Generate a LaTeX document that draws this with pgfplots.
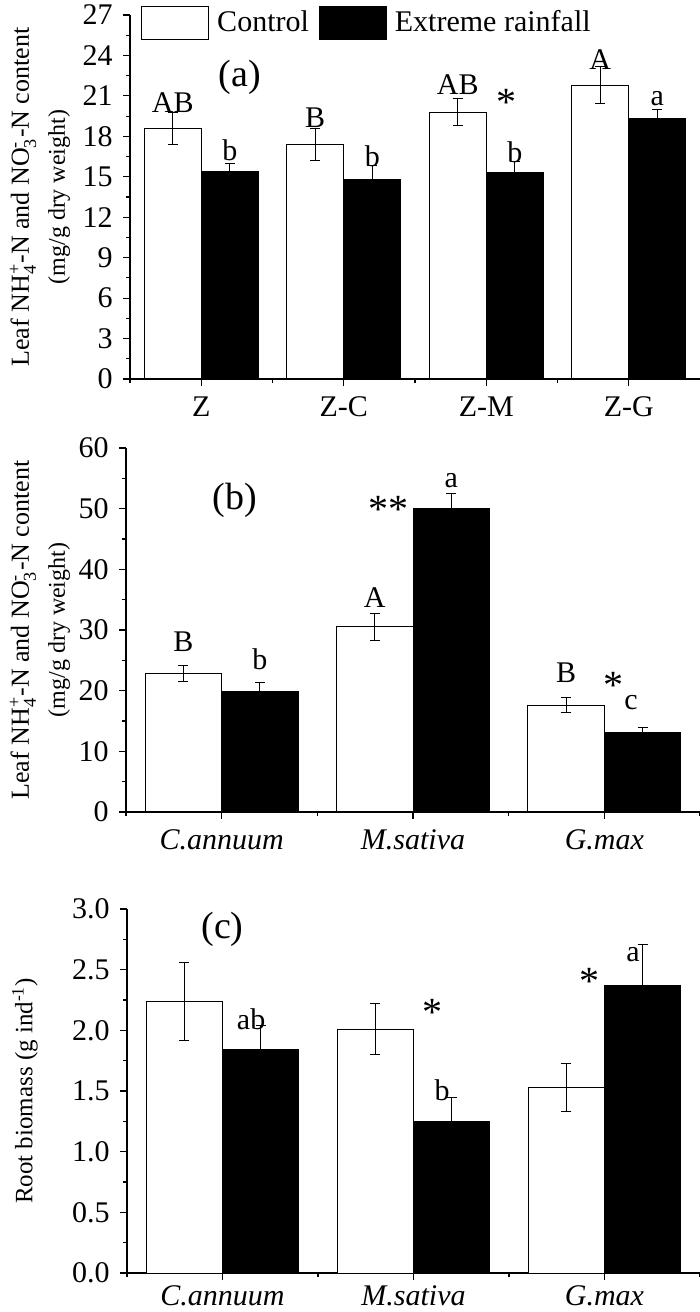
\documentclass[border=0pt]{standalone}
\usepackage{pgfplots}
\usepackage{pgfplotstable}
\usepackage{amsmath}
\pgfplotsset{compat=1.18}
\usepackage{fontspec}
\setmainfont{Liberation Serif}

% values: mean and error for control / extreme rainfall
\pgfplotstableread{
x ctrl ctrlerr ext exterr
1 18.6 1.2 15.4 0.6
2 17.4 1.2 14.8 1.0
3 19.8 1.0 15.3 0.85
4 21.8 1.4 19.3 0.7
}\dataA
\pgfplotstableread{
x ctrl ctrlerr ext exterr
1 22.8 1.3 19.9 1.4
2 30.5 2.3 50.0 2.5
3 17.6 1.2 13.1 0.8
}\dataB
\pgfplotstableread{
x ctrl ctrlerr ext exterr
1 2.24 0.32 1.84 0.20
2 2.01 0.21 1.25 0.20
3 1.53 0.20 2.37 0.34
}\dataC

\pgfplotsset{
  panel/.style={
    scale only axis,
    axis lines*=left,
    axis line style={line width=0.8pt,-},
    tick align=outside,
    major tick length=3.5pt,
    minor tick length=2pt,
    tick style={line width=0.6pt,black},
    minor y tick num=1,
    ticklabel style={font=\fontsize{15}{18}\selectfont},
    /pgf/number format/assume math mode=true,
    clip=false,
    xmin=0.5,
    ymin=0,
  },
  barbase/.style={ybar,draw=black,line width=0.5pt,bar width=0.4,bar shift=0,
    error bars/y dir=both,error bars/y explicit,
    error bars/error bar style={line width=0.5pt,black},
    error bars/error mark options={rotate=90,mark size=2.5pt,line width=0.5pt,black}},
  ctrlbar/.style={barbase,fill=white,
    legend image code/.code={\draw[black,fill=white,line width=0.5pt] (0pt,-8.25pt) rectangle (33.5pt,8.25pt);}},
  extbar/.style={barbase,fill=black,
    legend image code/.code={\draw[black,fill=black,line width=0.5pt] (0pt,-8.25pt) rectangle (33.5pt,8.25pt);}},
}
\tikzset{
  note/.style={font=\fontsize{15}{18}\selectfont},
  sig/.style={font=\fontsize{20}{22}\selectfont},
  paneltag/.style={font=\fontsize{19}{22}\selectfont},
}

\begin{document}
\fontsize{15}{18}\selectfont
\begin{tikzpicture}
\useasboundingbox (0,0) rectangle (350pt,656pt);

% (a)
\begin{axis}[panel,
  at={(65pt,466.5pt)}, anchor=south west,
  width=285pt, height=182pt,
  xmax=4.5, ymax=27,
  ytick={0,3,...,27},
  xtick={1,2,3,4}, xticklabels={Z,Z-C,Z-M,Z-G},
  minor xtick={0.5,1.5,2.5,3.5},
  ylabel={{\fontsize{13}{17}\selectfont Leaf NH$_{\text{4}}^{\text{+}}$-N and NO$_{\text{3}}^{\text{-}}$-N content}\\{\fontsize{12}{15}\selectfont (mg/g dry weight)}},
  ylabel style={at={(axis description cs:-0.158,0.5)},anchor=center,align=center},
  legend style={at={(0.0085,1.036)},anchor=north west,draw=none,fill=none,
    legend columns=2,font=\fontsize{15}{18}\selectfont,
    /tikz/every odd column/.append style={column sep=2pt},
    /tikz/every even column/.append style={column sep=3pt}},
]
\addplot[ctrlbar] table[x expr=\thisrow{x}-0.2,y=ctrl,y error=ctrlerr]{\dataA};
\addlegendentry{Control}
\addplot[extbar] table[x expr=\thisrow{x}+0.2,y=ext,y error=exterr]{\dataA};
\addlegendentry{Extreme rainfall}
\node[paneltag] at (axis cs:1.27,22.4) {(a)};
\node[note] at (axis cs:0.8,20.5) {AB};
\node[note] at (axis cs:1.2,17.0) {b};
\node[note] at (axis cs:1.8,19.4) {B};
\node[note] at (axis cs:2.2,16.5) {b};
\node[note] at (axis cs:2.8,21.8) {AB};
\node[sig] at (axis cs:3.14,20.5) {*};
\node[note] at (axis cs:3.2,16.8) {b};
\node[note] at (axis cs:3.8,23.7) {A};
\node[note] at (axis cs:4.2,20.8) {a};
\end{axis}

% (b)
\begin{axis}[panel,
  at={(63pt,250pt)}, anchor=south west,
  width=287pt, height=182pt,
  xmax=3.5, ymax=60,
  ytick={0,10,...,60},
  xtick={1,2,3}, xticklabels={\textit{C.annuum},\textit{M.sativa},\textit{G.max}},
  minor xtick={0.5,1.5,2.5,3.5},
  ylabel={{\fontsize{13}{17}\selectfont Leaf NH$_{\text{4}}^{\text{+}}$-N and NO$_{\text{3}}^{\text{-}}$-N content}\\{\fontsize{12}{15}\selectfont (mg/g dry weight)}},
  ylabel style={at={(axis description cs:-0.15,0.5)},anchor=center,align=center},
]
\addplot[ctrlbar] table[x expr=\thisrow{x}-0.2,y=ctrl,y error=ctrlerr]{\dataB};
\addplot[extbar] table[x expr=\thisrow{x}+0.2,y=ext,y error=exterr]{\dataB};
\node[paneltag] at (axis cs:1.07,51.4) {(b)};
\node[note] at (axis cs:0.8,28.0) {B};
\node[note] at (axis cs:1.2,25.1) {b};
\node[note] at (axis cs:1.8,35.4) {A};
\node[sig] at (axis cs:1.87,49.8) {**};
\node[note] at (axis cs:2.2,54.7) {a};
\node[note] at (axis cs:2.8,22.9) {B};
\node[sig] at (axis cs:3.05,20.8) {*};
\node[note] at (axis cs:3.14,18.1) {c};
\end{axis}

% (c)
\begin{axis}[panel,
  at={(63.5pt,19.5pt)}, anchor=south west,
  width=286.5pt, height=182pt,
  xmax=3.5, ymax=3,
  ytick={0,0.5,...,3},
  yticklabel style={/pgf/number format/.cd,fixed,fixed zerofill,precision=1},
  xtick={1,2,3}, xticklabels={\textit{C.annuum},\textit{M.sativa},\textit{G.max}},
  xticklabel shift=-2.5pt,
  minor xtick={0.5,1.5,2.5,3.5},
  ylabel={\fontsize{12.5}{16}\selectfont Root biomass (g ind\textsuperscript{-1})},
  ylabel style={at={(axis description cs:-0.178,0.5)},anchor=center},
]
\addplot[ctrlbar] table[x expr=\thisrow{x}-0.2,y=ctrl,y error=ctrlerr]{\dataC};
\addplot[extbar] table[x expr=\thisrow{x}+0.2,y=ext,y error=exterr]{\dataC};
\node[paneltag] at (axis cs:1.0,2.83) {(c)};
\node[note] at (axis cs:1.15,2.09) {ab};
\node[sig] at (axis cs:2.1,2.15) {*};
\node[note] at (axis cs:2.15,1.51) {b};
\node[sig] at (axis cs:2.92,2.40) {*};
\node[note] at (axis cs:3.15,2.62) {a};
\end{axis}
\end{tikzpicture}
\end{document}
